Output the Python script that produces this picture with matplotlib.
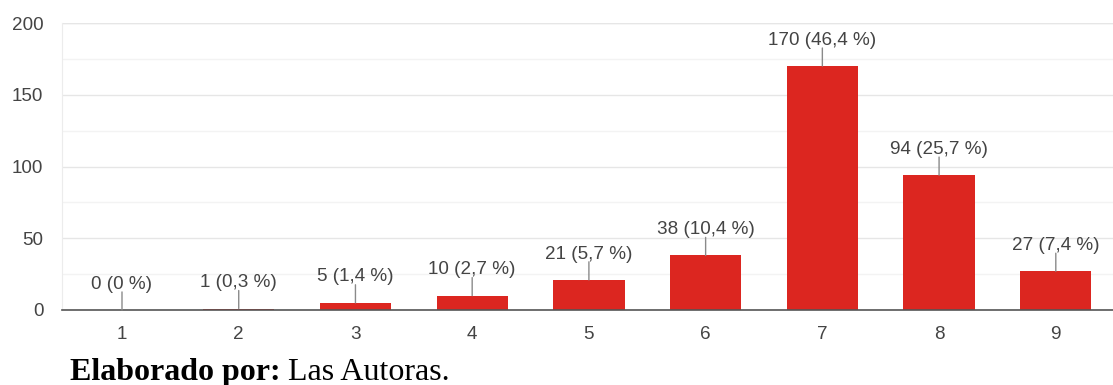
import matplotlib.pyplot as plt
from matplotlib.ticker import MultipleLocator

categories = [1, 2, 3, 4, 5, 6, 7, 8, 9]
counts = [0, 1, 5, 10, 21, 38, 170, 94, 27]
percents = ["0", "0,3", "1,4", "2,7", "5,7", "10,4", "46,4", "25,7", "7,4"]
y_ticks = [0, 50, 100, 150, 200]

bar_color = "#dc2620"
text_color = "#444444"
label_size = 13.6

fig = plt.figure(figsize=(11.13, 3.85), dpi=100)
ax = fig.add_axes([62 / 1113, 1 - 310 / 385, 1 - 62 / 1113, (310 - 23) / 385])

ax.bar(categories, counts, width=0.61, color=bar_color, zorder=3)

ax.set_xlim(0.486, 9.49)
ax.set_ylim(0, 200)
ax.set_yticks(y_ticks)
ax.yaxis.set_minor_locator(MultipleLocator(25))
ax.set_xticks(categories)
ax.set_xticklabels([str(c) for c in categories])

ax.grid(axis="y", which="major", color="#e6e6e6", linewidth=1, zorder=0)
ax.grid(axis="y", which="minor", color="#f3f3f3", linewidth=1, zorder=0)

for side in ("top", "right"):
    ax.spines[side].set_visible(False)
ax.spines["left"].set_color("#ececec")
ax.spines["bottom"].set_color("#555555")
ax.spines["bottom"].set_linewidth(1.2)
ax.spines["bottom"].set_zorder(4)
ax.axhline(200, color="#ececec", linewidth=1, zorder=0)

ax.tick_params(axis="both", which="both", length=0, labelsize=label_size,
               labelcolor=text_color)
ax.tick_params(axis="x", pad=11.5)
ax.tick_params(axis="y", pad=13.5)
for lbl in ax.get_xticklabels() + ax.get_yticklabels():
    lbl.set_fontfamily("Liberation Sans")

for c, v, p in zip(categories, counts, percents):
    ax.annotate("", xy=(c, v), xytext=(0, 13), textcoords="offset points",
                arrowprops=dict(arrowstyle="-", color="#8a8a8a", lw=1,
                                shrinkA=0, shrinkB=0), zorder=5)
    ax.annotate(f"{v} ({p} %)", xy=(c, v), xytext=(0, 12.5),
                textcoords="offset points", ha="center", va="bottom",
                fontsize=label_size, color=text_color, family="Liberation Sans",
                zorder=5)

bold = fig.text(70 / 1113, 1 - 380 / 385, "Elaborado por:", fontsize=23,
                fontweight="bold", family="Liberation Serif", va="baseline",
                ha="left", color="black")
fig.canvas.draw()
bb = bold.get_window_extent()
fig.text((bb.x1 + 7) / 1113, 1 - 380 / 385, "Las Autoras.", fontsize=23,
         family="Liberation Serif", va="baseline", ha="left", color="black")

fig.savefig("out.png", dpi=100)
